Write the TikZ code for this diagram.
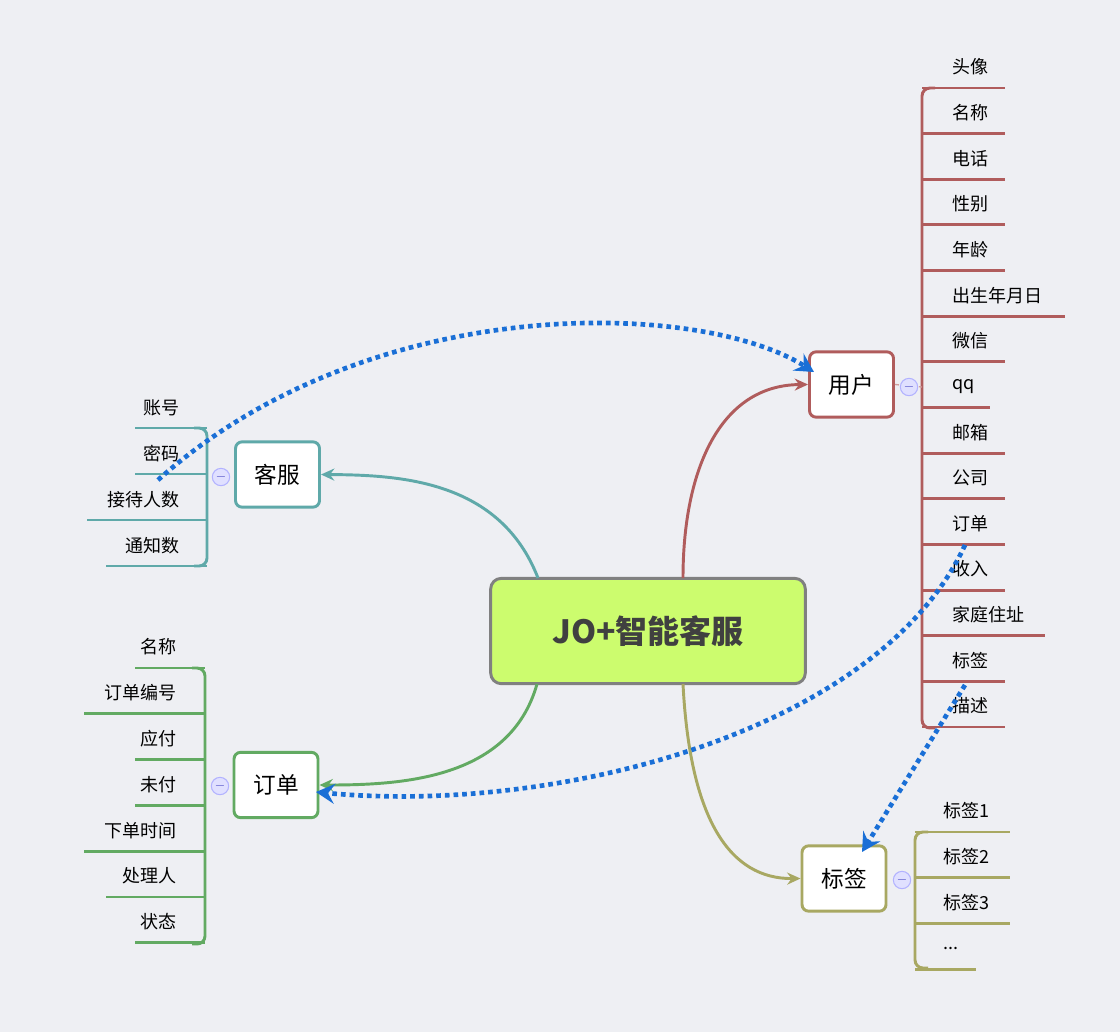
\documentclass[tikz,border=0pt]{standalone}
\usepackage{fontspec}
\setmainfont{Noto Sans CJK SC}
\usetikzlibrary{arrows.meta}
\definecolor{bg}{HTML}{EEEFF3}
\definecolor{cred}{HTML}{B05C5C}
\definecolor{cteal}{HTML}{5FA9A9}
\definecolor{cgreen}{HTML}{62AA62}
\definecolor{colive}{HTML}{A8A862}
\definecolor{cblue}{HTML}{1A6FD6}
\definecolor{ccen}{HTML}{CCFC6E}
\newcommand\mydots{...}
\begin{document}
\begin{tikzpicture}[x=0.75pt,y=-0.75pt,
 topic/.style={draw=#1,line width=2.2pt,fill=white,rounded corners=5pt,minimum width=63pt,minimum height=49pt,font=\fontsize{17}{17}\selectfont,inner sep=0pt},
 item/.style={font=\fontsize{13.5}{14}\selectfont,inner sep=0pt},
 br/.style={line width=2.2pt,#1},
 col/.style={circle,draw=blue!30,fill=blue!12,line width=0.8pt,minimum size=13pt,inner sep=0pt,font=\fontsize{10}{10}\selectfont,text=blue!50!gray},
 link/.style={cblue,line width=3.5pt,dash pattern=on 3.5pt off 3pt,-{Stealth[length=14pt,width=15pt,inset=5pt]}},
 rel/.style={line width=2.2pt,-{Stealth[length=10pt,width=9pt]}}]
\fill[bg] (0,0) rectangle (1120,1032);
\useasboundingbox (0,0) rectangle (1120,1032);
\node[draw=gray,line width=2.2pt,fill=ccen,rounded corners=8pt,minimum width=236pt,minimum height=79pt,font=\bfseries\fontsize{24}{24}\selectfont,text=black!75] (c) at (648,631) {JO+智能客服};
\node[topic=cred] (u) at (851.5,384.5) {用户};
\node[topic=cteal] (k) at (277.5,474.5) {客服};
\node[topic=cgreen] (d) at (276,785) {订单};
\node[topic=colive] (b) at (844,878.5) {标签};
\draw[rel,cred] (683,578) .. controls (683,470) and (720,385) .. (u.west);
\draw[rel,cteal] (538,578) .. controls (500,480) and (400,475) .. (k.east);
\draw[rel,cgreen] (537,684) .. controls (510,780) and (400,785) .. (d.east);
\draw[rel,colive] (683,684) .. controls (690,820) and (730,879) .. (b.west);
% user items
\foreach \t/\e [count=\i from 0] in {头像/1005,名称/1005,电话/1005,性别/1005,年龄/1005,出生年月日/1065,微信/1005,qq/990,邮箱/1005,公司/1005,订单/1005,收入/1005,家庭住址/1045,标签/1005,描述/1005}{
 \pgfmathsetmacro\yy{67+45.64*\i}
 \node[item,anchor=west] (ui\i) at (952,\yy) {\t};
 \draw[br=cred] (922,\yy+21) -- (\e,\yy+21);
}
\draw[br=cred,rounded corners=6pt] (935,88) -- (922,88) -- (922,728) -- (935,728);
\draw[cred!60,line width=1pt,dashed] (u.east) -- (922,387);
\node[col] (uc) at (909,387) {$-$};
% kefu items
\foreach \t/\s [count=\i from 0] in {账号/135,密码/135,接待人数/87,通知数/106}{
 \pgfmathsetmacro\yy{408+46*\i}
 \node[item,anchor=east] (ki\i) at (180,\yy) {\t};
 \draw[br=cteal] (\s,\yy+20) -- (207,\yy+20);
}
\draw[br=cteal,rounded corners=6pt] (194,428) -- (207,428) -- (207,566) -- (194,566);
\node[col] (kc) at (221,477) {$-$};
% order items
\foreach \t/\s [count=\i from 0] in {名称/135,订单编号/84,应付/135,未付/135,下单时间/84,处理人/106,状态/135}{
 \pgfmathsetmacro\yy{647+45.8*\i}
 \node[item,anchor=east] (di\i) at (177,\yy) {\t};
 \draw[br=cgreen] (\s,\yy+21) -- (205,\yy+21);
}
\draw[br=cgreen,rounded corners=6pt] (192,668) -- (205,668) -- (205,944) -- (192,944);
\node[col] (dc) at (220,786) {$-$};
% tag items
\foreach \t/\e [count=\i from 0] in {标签1/1010,标签2/1010,标签3/1010,{\mydots}/976}{
 \pgfmathsetmacro\yy{811+45.8*\i}
 \node[item,anchor=west] (bi\i) at (943,\yy) {\t};
 \draw[br=colive] (915,\yy+21) -- (\e,\yy+21);
}
\draw[br=colive,rounded corners=6pt] (928,832) -- (915,832) -- (915,968) -- (928,968);
\node[col] (bc) at (902,880) {$-$};
% links
\coordinate (l1s) at (158,480);
\coordinate (l1e) at (814,372);
\coordinate (l2s) at (965,545);
\coordinate (l2e) at (316,792);
\coordinate (l3s) at (965,685);
\coordinate (l3e) at (862,852);
\draw[link] (l1s) .. controls (370,290) and (700,300) .. (l1e);
\draw[link] (l2s) .. controls (880,730) and (560,815) .. (l2e);
\draw[link] (l3s) -- (l3e);
\end{tikzpicture}
\end{document}
